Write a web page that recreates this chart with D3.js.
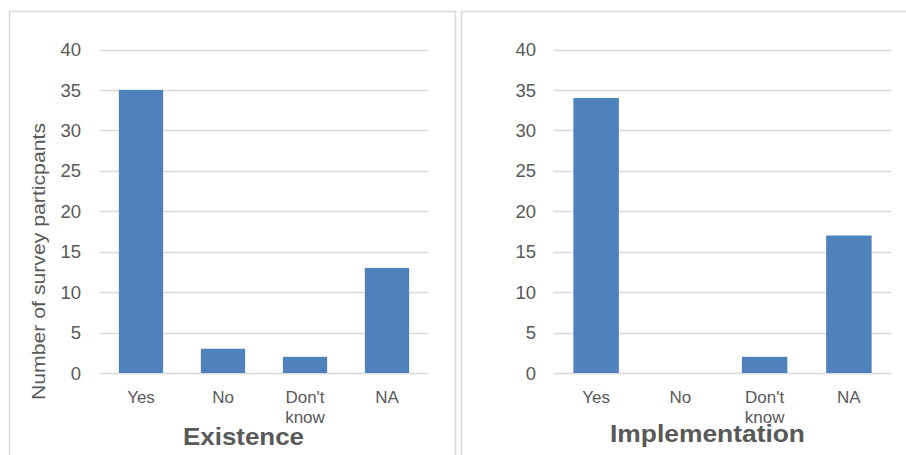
<!DOCTYPE html>
<html><head><meta charset="utf-8">
<script src="https://cdn.jsdelivr.net/npm/d3@7"></script>
<style>
html,body{margin:0;padding:0;background:#fff;}
svg{display:block;font-family:"Liberation Sans",Arial,Helvetica,sans-serif;}
</style></head>
<body>
<script>
const categories = ["Yes", "No", "Don't know", "NA"];
const existenceValues = [35, 3, 2, 13];
const implementationValues = [34, 0, 2, 17];
const yTicks = [0, 5, 10, 15, 20, 25, 30, 35, 40];
const panelTitles = ["Existence", "Implementation"];
const yAxisLabel = "Number of survey particpants";

const W = 906, H = 455;
const svg = d3.select("body").append("svg").attr("width", W).attr("height", H);

// panel borders
svg.append("rect").attr("x", 9.5).attr("y", 11.5).attr("width", 446).attr("height", 460)
  .attr("fill", "none").attr("stroke", "#d9d9d9").attr("stroke-width", 1.5);
svg.append("rect").attr("x", 461.5).attr("y", 11.5).attr("width", 460).attr("height", 460)
  .attr("fill", "none").attr("stroke", "#d9d9d9").attr("stroke-width", 1.5);

const panels = [
  {values: existenceValues, title: panelTitles[0], x0: 100, x1: 428, tickX: 81, titleX: 243.5, titleY: 445, titleW: 121, showYLabel: true},
  {values: implementationValues, title: panelTitles[1], x0: 554, x1: 891, tickX: 536, titleX: 707.5, titleY: 441.5, titleW: 195, showYLabel: false}
];

const y = d3.scaleLinear().domain([0, 40]).range([373, 49.5]);

panels.forEach(p => {
  const g = svg.append("g");
  const x = d3.scaleBand().domain(categories).range([p.x0, p.x1]).paddingInner(0.46).paddingOuter(0.23);

  // gridlines
  g.selectAll("line.grid").data(yTicks).enter().append("line")
    .attr("x1", p.x0).attr("x2", p.x1)
    .attr("y1", d => Math.round(y(d)) + 0.5).attr("y2", d => Math.round(y(d)) + 0.5)
    .attr("stroke", "#d9d9d9").attr("stroke-width", 1.3);

  // tick labels
  g.selectAll("text.tick").data(yTicks).enter().append("text")
    .attr("x", p.tickX).attr("y", d => y(d)).attr("dy", "0.36em")
    .attr("text-anchor", "end").attr("fill", "#595959").attr("font-size", 18.5)
    .text(d => d);

  // bars
  g.selectAll("rect.bar").data(categories.map((c, i) => ({c, v: p.values[i]}))).enter().append("rect")
    .attr("x", d => x(d.c)).attr("width", x.bandwidth())
    .attr("y", d => y(d.v)).attr("height", d => y(0) - y(d.v))
    .attr("fill", "#4f81bd");

  // x labels
  categories.forEach(c => {
    const words = c === "Don't know" ? ["Don't", "know"] : [c];
    const t = g.append("text").attr("text-anchor", "middle").attr("fill", "#595959").attr("font-size", 17)
      .attr("x", x(c) + x.bandwidth() / 2).attr("y", 403);
    words.forEach((w, i) => {
      t.append("tspan").attr("x", x(c) + x.bandwidth() / 2).attr("dy", i === 0 ? 0 : 20).text(w);
    });
  });

  // title
  g.append("text").attr("x", p.titleX).attr("y", p.titleY).attr("text-anchor", "middle")
    .attr("fill", "#595959").attr("font-size", 24).attr("font-weight", "bold")
    .attr("textLength", p.titleW).attr("lengthAdjust", "spacingAndGlyphs").text(p.title);

  if (p.showYLabel) {
    g.append("text").attr("transform", `translate(45,261.5) rotate(-90)`)
      .attr("text-anchor", "middle").attr("fill", "#595959").attr("font-size", 17.5)
      .attr("textLength", 277).attr("lengthAdjust", "spacingAndGlyphs").text(yAxisLabel);
  }
});
</script>
</body></html>
